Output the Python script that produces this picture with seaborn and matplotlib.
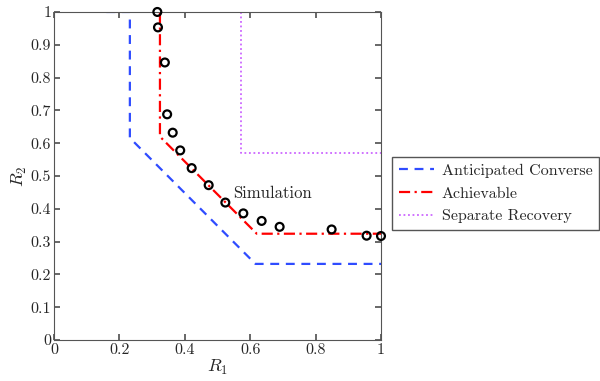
import pandas as pd
import matplotlib.pyplot as plt
import seaborn as sns

# anticipated converse (outer bound)
conv_r1 = [0.16, 0.232, 0.232, 0.616, 1.0]
conv_r2 = [1.0, 1.0, 0.616, 0.232, 0.232]

# achievable region
ach_r1 = [0.324, 0.324, 0.62, 1.0]
ach_r2 = [1.0, 0.62, 0.324, 0.324]

# separate recovery
sep_r1 = [0.572, 0.572, 1.0]
sep_r2 = [1.0, 0.571, 0.571]

# simulation points
sim_r1 = [0.316, 0.318, 0.339, 0.346, 0.363, 0.386, 0.421, 0.473,
          0.524, 0.579, 0.635, 0.690, 0.849, 0.956, 1.0]
sim_r2 = [1.0, 0.953, 0.846, 0.688, 0.632, 0.578, 0.524, 0.472,
          0.419, 0.386, 0.363, 0.345, 0.337, 0.318, 0.317]

sns.set_theme(style="ticks")
plt.rcParams["font.family"] = "serif"
plt.rcParams["font.serif"] = ["cmr10", "DejaVu Serif"]
plt.rcParams["mathtext.fontset"] = "cm"
plt.rcParams["axes.formatter.use_mathtext"] = True

fig = plt.figure(figsize=(6, 3.81), dpi=100)
ax = fig.add_axes([0.09, 0.1076, 0.545, 0.861])

conv = pd.DataFrame({"r1": conv_r1, "r2": conv_r2})
ach = pd.DataFrame({"r1": ach_r1, "r2": ach_r2})
sep = pd.DataFrame({"r1": sep_r1, "r2": sep_r2})
sim = pd.DataFrame({"r1": sim_r1, "r2": sim_r2})

sns.lineplot(data=conv, x="r1", y="r2", sort=False, estimator=None, ax=ax,
             color="#2f4cff", linestyle=(0, (4, 3)), linewidth=1.6,
             label="Anticipated Converse")
sns.lineplot(data=ach, x="r1", y="r2", sort=False, estimator=None, ax=ax,
             color="#ff0000", linestyle=(0, (5, 2, 1, 2)), linewidth=1.6,
             label="Achievable")
sns.lineplot(data=sep, x="r1", y="r2", sort=False, estimator=None, ax=ax,
             color="#cc66ff", linestyle=(0, (1, 1.5)), linewidth=1.3,
             label="Separate Recovery")
sns.scatterplot(data=sim, x="r1", y="r2", ax=ax, marker="o", s=32,
                facecolor="none", edgecolor="black", linewidth=1.6,
                zorder=5, clip_on=False)

ax.text(0.547, 0.448, "Simulation", fontsize=12, va="center", ha="left")

ax.set_xlim(0, 1)
ax.set_ylim(0, 1)
ax.set_xticks([0, 0.2, 0.4, 0.6, 0.8, 1])
ax.set_xticklabels(["0", "0.2", "0.4", "0.6", "0.8", "1"])
ax.set_yticks([i / 10 for i in range(11)])
ax.set_yticklabels(["0"] + [f"{i / 10:.1f}" for i in range(1, 10)] + ["1"])
ax.tick_params(direction="in", top=True, right=True, labelsize=11.5,
               length=4, pad=2, color="#555555")
for s in ax.spines.values():
    s.set_color("#555555")
    s.set_linewidth(0.8)
ax.set_xlabel("$R_1$", fontsize=13, labelpad=1)
ax.set_ylabel("$R_2$", fontsize=13, labelpad=1)

handles, labels = ax.get_legend_handles_labels()
ax.legend(handles[:3], labels[:3], loc="upper left",
          bbox_to_anchor=(1.035, 0.558), fontsize=11.5,
          fancybox=False, framealpha=1, edgecolor="#555555",
          handlelength=2.2, borderaxespad=0, handletextpad=0.5,
          labelspacing=0.55)

fig.savefig("out.png", dpi=100)
